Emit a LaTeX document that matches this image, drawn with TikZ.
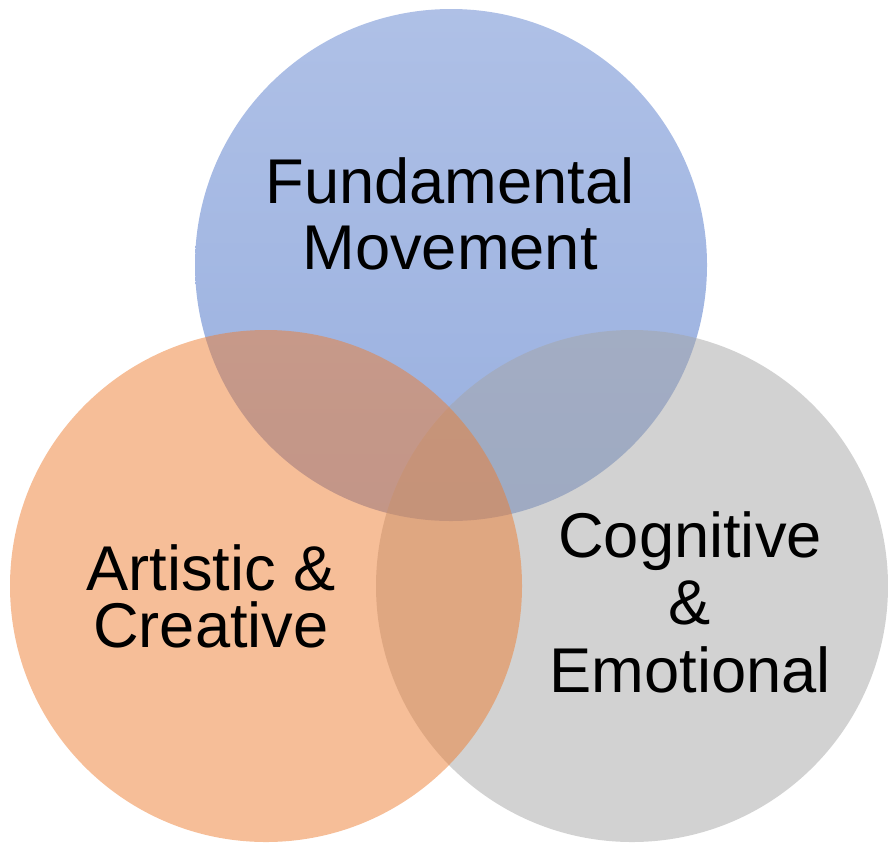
\documentclass[tikz,border=0pt]{standalone}
\usepackage{fontspec}
\setmainfont{Liberation Sans}

\definecolor{moveblue}{RGB}{68,114,196}
\definecolor{movebluetop}{RGB}{95,130,206}
\definecolor{movebluebot}{RGB}{50,96,192}
\definecolor{artorange}{RGB}{237,125,49}
\definecolor{coggrey}{RGB}{165,165,165}

\begin{document}
\begin{tikzpicture}[x=0.02cm, y=-0.02cm,
    set/.style={fill opacity=0.5},
    setlabel/.style={align=center, text=black, inner sep=0pt}]
    \useasboundingbox (0,0) rectangle (888,842);

    % 三个集合
    \shade[set, top color=movebluetop, bottom color=movebluebot] (451,265) circle (256);
    \fill[set, coggrey] (632,586) circle (256);
    \fill[set, artorange] (266,586) circle (256);

    % 标签
    \node[setlabel, font=\fontsize{36}{37.6}\selectfont] (fundamental) at (450,214) {Fundamental\\Movement};
    \node[setlabel, font=\fontsize{36}{32.4}\selectfont] (artistic) at (211,596) {Artistic \&\\Creative};
    \node[setlabel, font=\fontsize{36}{38.4}\selectfont] (cognitive) at (690,602) {Cognitive\\\&\\Emotional};
\end{tikzpicture}
\end{document}
